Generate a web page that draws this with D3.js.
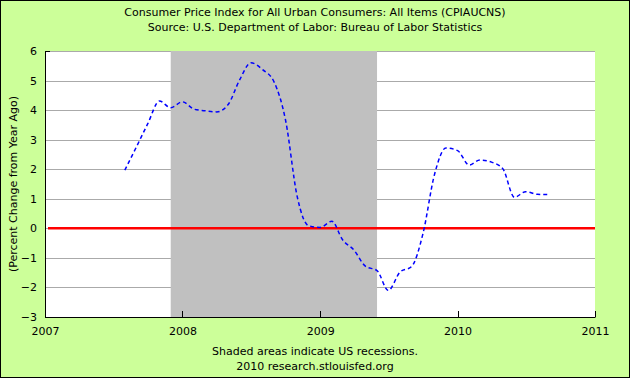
<!DOCTYPE html>
<html><head><meta charset="utf-8">
<script src="https://cdn.jsdelivr.net/npm/d3@7"></script>
<style>
html,body{margin:0;padding:0;background:#fff;}
svg{display:block;}
text{font-family:"DejaVu Sans",Verdana,sans-serif;fill:#000;}
</style></head><body>
<svg id="c" width="630" height="378"></svg>
<script>
const months = ["2007-08","2007-09","2007-10","2007-11","2007-12",
"2008-01","2008-02","2008-03","2008-04","2008-05","2008-06","2008-07","2008-08","2008-09","2008-10","2008-11","2008-12",
"2009-01","2009-02","2009-03","2009-04","2009-05","2009-06","2009-07","2009-08","2009-09","2009-10","2009-11","2009-12",
"2010-01","2010-02","2010-03","2010-04","2010-05","2010-06","2010-07","2010-08","2010-09"];
const values = [1.97,2.76,3.54,4.31,4.08,
4.28,4.03,3.98,3.94,4.18,5.02,5.60,5.37,4.94,3.66,1.07,0.09,
0.03,0.24,-0.38,-0.74,-1.28,-1.43,-2.10,-1.48,-1.29,-0.18,1.84,2.72,
2.63,2.14,2.31,2.24,2.02,1.05,1.24,1.15,1.14];
const recession = ["2007-12","2009-06"];
const yTicks = [-3,-2,-1,0,1,2,3,4,5,6];
const xTicks = ["2007","2008","2009","2010","2011"];
const title = ["Consumer Price Index for All Urban Consumers: All Items (CPIAUCNS)",
"Source: U.S. Department of Labor: Bureau of Labor Statistics"];
const yLabel = "(Percent Change from Year Ago)";
const footer = ["Shaded areas indicate US recessions.","2010 research.stlouisfed.org"];

const W=630,H=378;
const svg=d3.select("#c");
const parseM=d3.timeParse("%Y-%m"), parseY=d3.timeParse("%Y");
const L=45,R=595,T=51,B=317;
const x=d3.scaleTime().domain([parseY("2007"),parseY("2011")]).range([L,R]);
const y=d3.scaleLinear().domain([-3,6]).range([B,T]);

svg.append("rect").attr("x",0.5).attr("y",0.5).attr("width",W-1).attr("height",H-1)
  .attr("fill","#ccff99").attr("stroke","#000").attr("stroke-width",1);
svg.append("rect").attr("x",L).attr("y",T).attr("width",R-L).attr("height",B-T).attr("fill","#fff");

// gridlines
svg.append("g").selectAll("line").data(yTicks.filter(d=>d>-3)).join("line")
  .attr("x1",L).attr("x2",R).attr("y1",d=>Math.round(y(d))+0.5).attr("y2",d=>Math.round(y(d))+0.5)
  .attr("stroke","#aaaaaa").attr("stroke-width",1);

// recession
svg.append("rect").attr("x",x(parseM(recession[0]))).attr("y",T)
  .attr("width",x(parseM(recession[1]))-x(parseM(recession[0]))).attr("height",B-T)
  .attr("fill","#c0c0c0");

// zero line
svg.append("line").attr("x1",L+3).attr("x2",R).attr("y1",y(0)).attr("y2",y(0))
  .attr("stroke","#ff0000").attr("stroke-width",2.5);

// axes
const yAxis=d3.axisLeft(y).tickValues(yTicks).tickSize(0).tickPadding(8).tickFormat(d3.format("d"));
const gy=svg.append("g").attr("transform",`translate(${L},0)`).call(yAxis);
gy.select(".domain").remove();
gy.selectAll("text").attr("font-size",11).attr("font-family","DejaVu Sans");
const xAxis=d3.axisBottom(x).tickValues(xTicks.map(parseY)).tickSize(0).tickPadding(6).tickFormat(d3.timeFormat("%Y"));
const gx=svg.append("g").attr("transform",`translate(0,${B})`).call(xAxis);
gx.select(".domain").remove();
gx.selectAll("text").attr("font-size",11).attr("font-family","DejaVu Sans").attr("dy","1.1em");
// inward x ticks
svg.append("g").selectAll("line").data(xTicks.map(parseY)).join("line")
  .attr("x1",d=>Math.round(x(d))+0.5).attr("x2",d=>Math.round(x(d))+0.5).attr("y1",B).attr("y2",B-6)
  .attr("stroke","#000");
svg.append("line").attr("x1",L+0.5).attr("x2",L+0.5).attr("y1",T).attr("y2",B+0.5).attr("stroke","#000");
svg.append("line").attr("x1",L).attr("x2",R+0.5).attr("y1",B+0.5).attr("y2",B+0.5).attr("stroke","#000");
svg.append("line").attr("x1",L).attr("x2",L+5).attr("y1",T+0.5).attr("y2",T+0.5).attr("stroke","#000");

// data line
const line=d3.line().x((d,i)=>x(parseM(months[i]))).y(d=>y(d)).curve(d3.curveMonotoneX);
svg.append("path").datum(values).attr("d",line).attr("fill","none")
  .attr("stroke","#0000ff").attr("stroke-width",1.5).attr("stroke-dasharray","4,3");

// texts
svg.selectAll("text.t").data(title).join("text").attr("class","t")
  .attr("x",W/2).attr("y",(d,i)=>16+i*15).attr("text-anchor","middle").attr("font-size",11).text(d=>d);
svg.selectAll("text.f").data(footer).join("text").attr("class","f")
  .attr("x",W/2).attr("y",(d,i)=>355+i*15).attr("text-anchor","middle").attr("font-size",11).text(d=>d);
svg.append("text").attr("transform",`translate(17,${(T+B)/2}) rotate(-90)`)
  .attr("text-anchor","middle").attr("font-size",11).text(yLabel);
</script></body></html>
